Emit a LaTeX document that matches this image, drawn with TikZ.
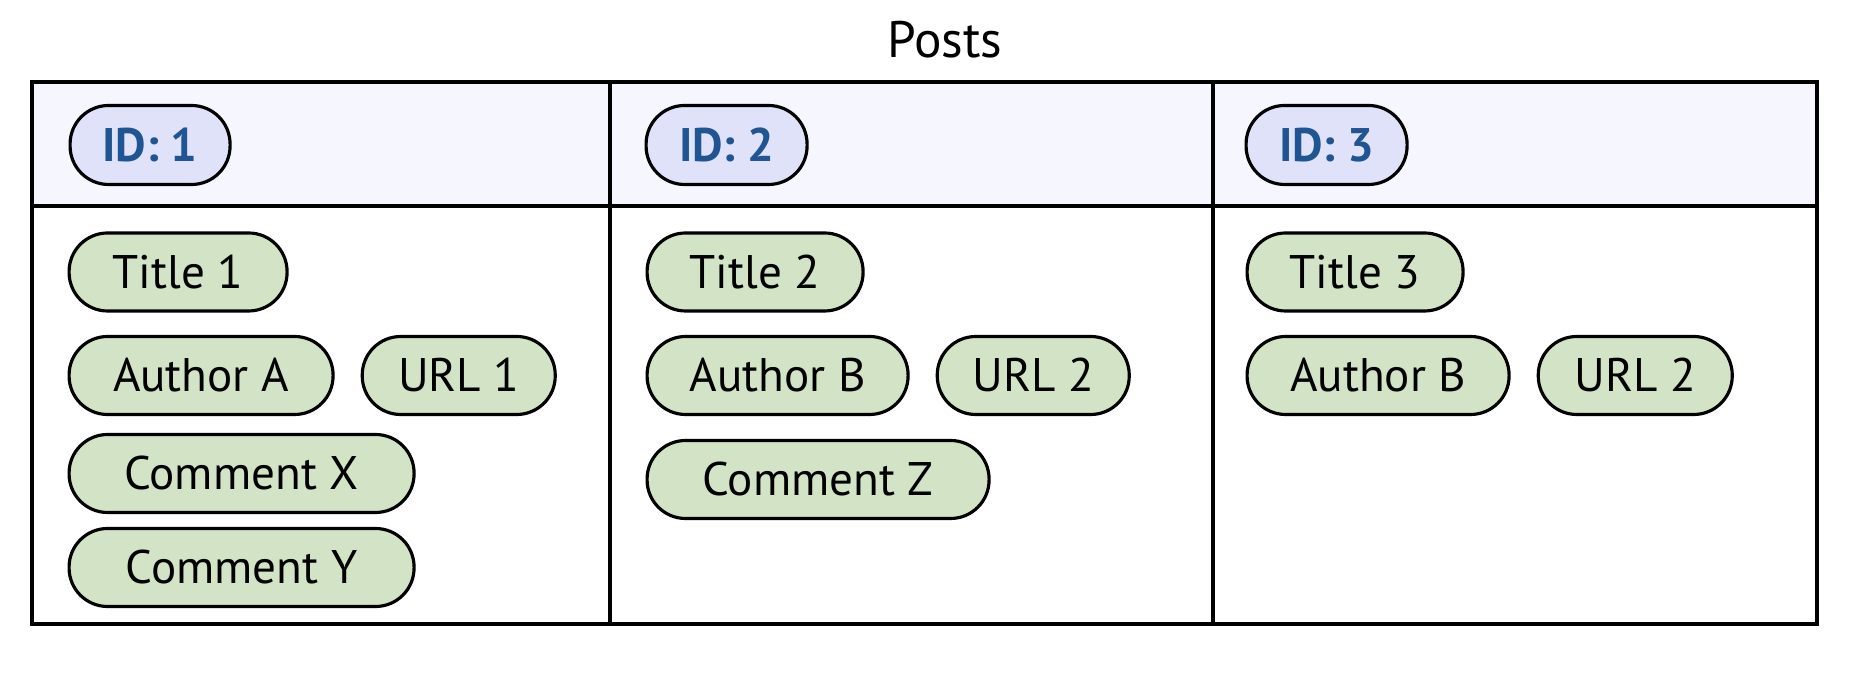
\documentclass[tikz,border=0pt]{standalone}
\usepackage{fontspec}
\setmainfont{PT Sans}
\usetikzlibrary{positioning}

\definecolor{headbg}{HTML}{F5F6FE}
\definecolor{idfill}{HTML}{E0E2FA}
\definecolor{idblue}{HTML}{1F5592}
\definecolor{fieldgreen}{HTML}{D3E3C5}

\tikzset{
	field/.style={draw=black, line width=0.9pt, fill=fieldgreen, rounded corners=0.385cm,
		minimum height=0.78cm, inner sep=0pt, text height=0.33cm, text depth=0pt,
		anchor=west, font=\fontsize{13.4}{16}\selectfont},
	idtag/.style={field, fill=idfill, text=idblue, minimum height=0.79cm,
		font=\fontsize{13.4}{16}\selectfont\bfseries}
}

\begin{document}
\begin{tikzpicture}
		\useasboundingbox (0,0) rectangle (18.62,-6.88);
		\node[anchor=base, font=\fontsize{14.6}{17}\selectfont] (posts) at (9.45,-0.58) {Posts};
		% table
		\filldraw[fill=headbg, draw=black, line width=0.9pt] (0.32,-0.82) rectangle (18.17,-2.06);
		\draw[black, line width=0.9pt] (0.32,-0.82) rectangle (18.17,-6.24);
		\draw[black, line width=0.9pt] (6.10,-0.82) -- (6.10,-6.24);
		\draw[black, line width=0.9pt] (12.13,-0.82) -- (12.13,-6.24);
		% ids
		\node[idtag, minimum width=1.60cm] (id1) at (0.685,-1.45) {ID: 1};
		\node[idtag, minimum width=1.61cm] (id2) at (6.445,-1.45) {ID: 2};
		\node[idtag, minimum width=1.61cm] (id3) at (12.445,-1.45) {ID: 3};
		% post 1
		\node[field, minimum width=2.18cm] (title1) at (0.675,-2.72) {Title 1};
		\node[field, minimum width=2.64cm] (authorA) at (0.675,-3.755) {Author A};
		\node[field, minimum width=1.93cm, right=0.26cm of authorA] (url1) {URL 1};
		\node[field, minimum width=3.45cm] (commX) at (0.675,-4.735) {Comment X};
		\node[field, minimum width=3.45cm] (commY) at (0.675,-5.675) {Comment Y};
		% post 2
		\node[field, minimum width=2.16cm] (title2) at (6.455,-2.72) {Title 2};
		\node[field, minimum width=2.61cm] (authorB) at (6.455,-3.755) {Author B};
		\node[field, minimum width=1.92cm, right=0.26cm of authorB] (url2) {URL 2};
		\node[field, minimum width=3.42cm] (commZ) at (6.455,-4.795) {Comment Z};
		% post 3
		\node[field, minimum width=2.16cm] (title3) at (12.455,-2.72) {Title 3};
		\node[field, minimum width=2.62cm] (authorB3) at (12.455,-3.755) {Author B};
		\node[field, minimum width=1.94cm, right=0.26cm of authorB3] (url3) {URL 2};
	\end{tikzpicture}
\end{document}
